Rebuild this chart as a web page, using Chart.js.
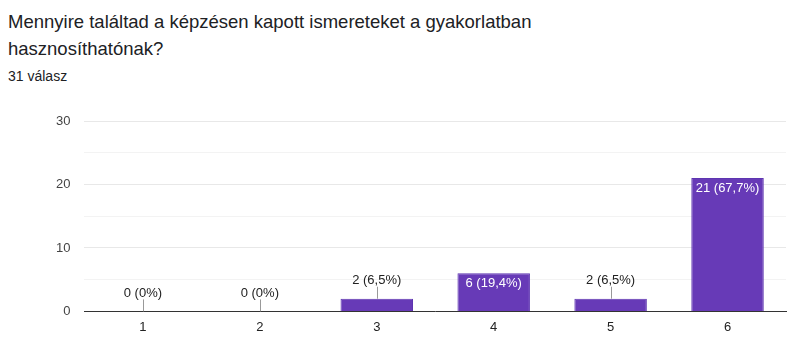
<!DOCTYPE html>
<html>
<head>
<meta charset="utf-8">
<script src="https://cdn.jsdelivr.net/npm/chart.js@4"></script>
<style>
  body { margin: 0; background: #fff; font-family: Arial, "Liberation Sans", sans-serif; }
  #title { position: absolute; left: 8px; top: 8px; font-size: 18.5px; line-height: 27px; color: #202124; width: 590px; }
  #count { position: absolute; left: 8px; top: 68px; font-size: 14px; color: #202124; }
  #wrap { position: absolute; left: 0; top: 0; width: 800px; height: 359px; }
</style>
</head>
<body>
<div id="title">Mennyire találtad a képzésen kapott ismereteket a gyakorlatban hasznosíthatónak?</div>
<div id="count">31 válasz</div>
<div id="wrap"><canvas id="bar-chart"></canvas></div>
<script>
const categories = ["1", "2", "3", "4", "5", "6"];
const answers = [0, 0, 2, 6, 2, 21];
const total = answers.reduce((a, b) => a + b, 0);
const font = "Arial, 'Liberation Sans', sans-serif";

// "2 (6,5%)" style labels, like the form summary
function labelFor(v) {
  const pct = Math.round((v / total) * 1000) / 10;
  return v + " (" + String(pct).replace(".", ",") + "%)";
}

const barLabels = {
  id: "barLabels",
  afterDatasetsDraw(chart) {
    const ctx = chart.ctx;
    const meta = chart.getDatasetMeta(0);
    ctx.save();
    ctx.font = "13px " + font;
    ctx.textAlign = "center";
    ctx.textBaseline = "middle";
    meta.data.forEach((bar, i) => {
      const text = labelFor(answers[i]);
      const h = bar.base - bar.y;
      if (h > 22) {
        ctx.fillStyle = "#ffffff";
        ctx.fillText(text, bar.x, bar.y + 10);
      } else {
        ctx.strokeStyle = "#999999";
        ctx.lineWidth = 1;
        ctx.beginPath();
        ctx.moveTo(Math.round(bar.x) + 0.5, bar.y);
        ctx.lineTo(Math.round(bar.x) + 0.5, bar.y - 12);
        ctx.stroke();
        ctx.fillStyle = "#222222";
        ctx.fillText(text, bar.x, bar.y - 18);
      }
    });
    ctx.restore();
  },
};

new Chart(document.getElementById("bar-chart"), {
  type: "bar",
  data: {
    labels: categories,
    datasets: [
      {
        data: answers,
        backgroundColor: "#673ab7",
        borderColor: "#5e35b1",
        borderWidth: 1,
        categoryPercentage: 1,
        barPercentage: 0.62,
      },
    ],
  },
  options: {
    responsive: true,
    maintainAspectRatio: false,
    animation: false,
    layout: { padding: { top: 121, left: 42, right: 14, bottom: 16 } },
    plugins: { legend: { display: false }, tooltip: { enabled: false } },
    scales: {
      x: {
        offset: true,
        grid: {
          offset: true,
          drawTicks: false,
          color: (c) => (c.index === categories.length ? "#e6e6e6" : "rgba(0,0,0,0)"),
        },
        border: { color: "#333333", width: 1 },
        ticks: { color: "#222222", font: { family: font, size: 13 }, padding: 8 },
      },
      y: {
        min: 0,
        max: 30,
        grid: {
          drawTicks: false,
          color: (c) => (c.tick.value % 10 === 0 ? "#e8e8e8" : "#f3f3f3"),
        },
        border: { display: false },
        ticks: {
          stepSize: 5,
          color: "#444444",
          padding: 14,
          font: { family: font, size: 13 },
          callback: (v) => (v % 10 === 0 ? v : ""),
        },
      },
    },
  },
  plugins: [barLabels],
});
</script>
</body>
</html>
